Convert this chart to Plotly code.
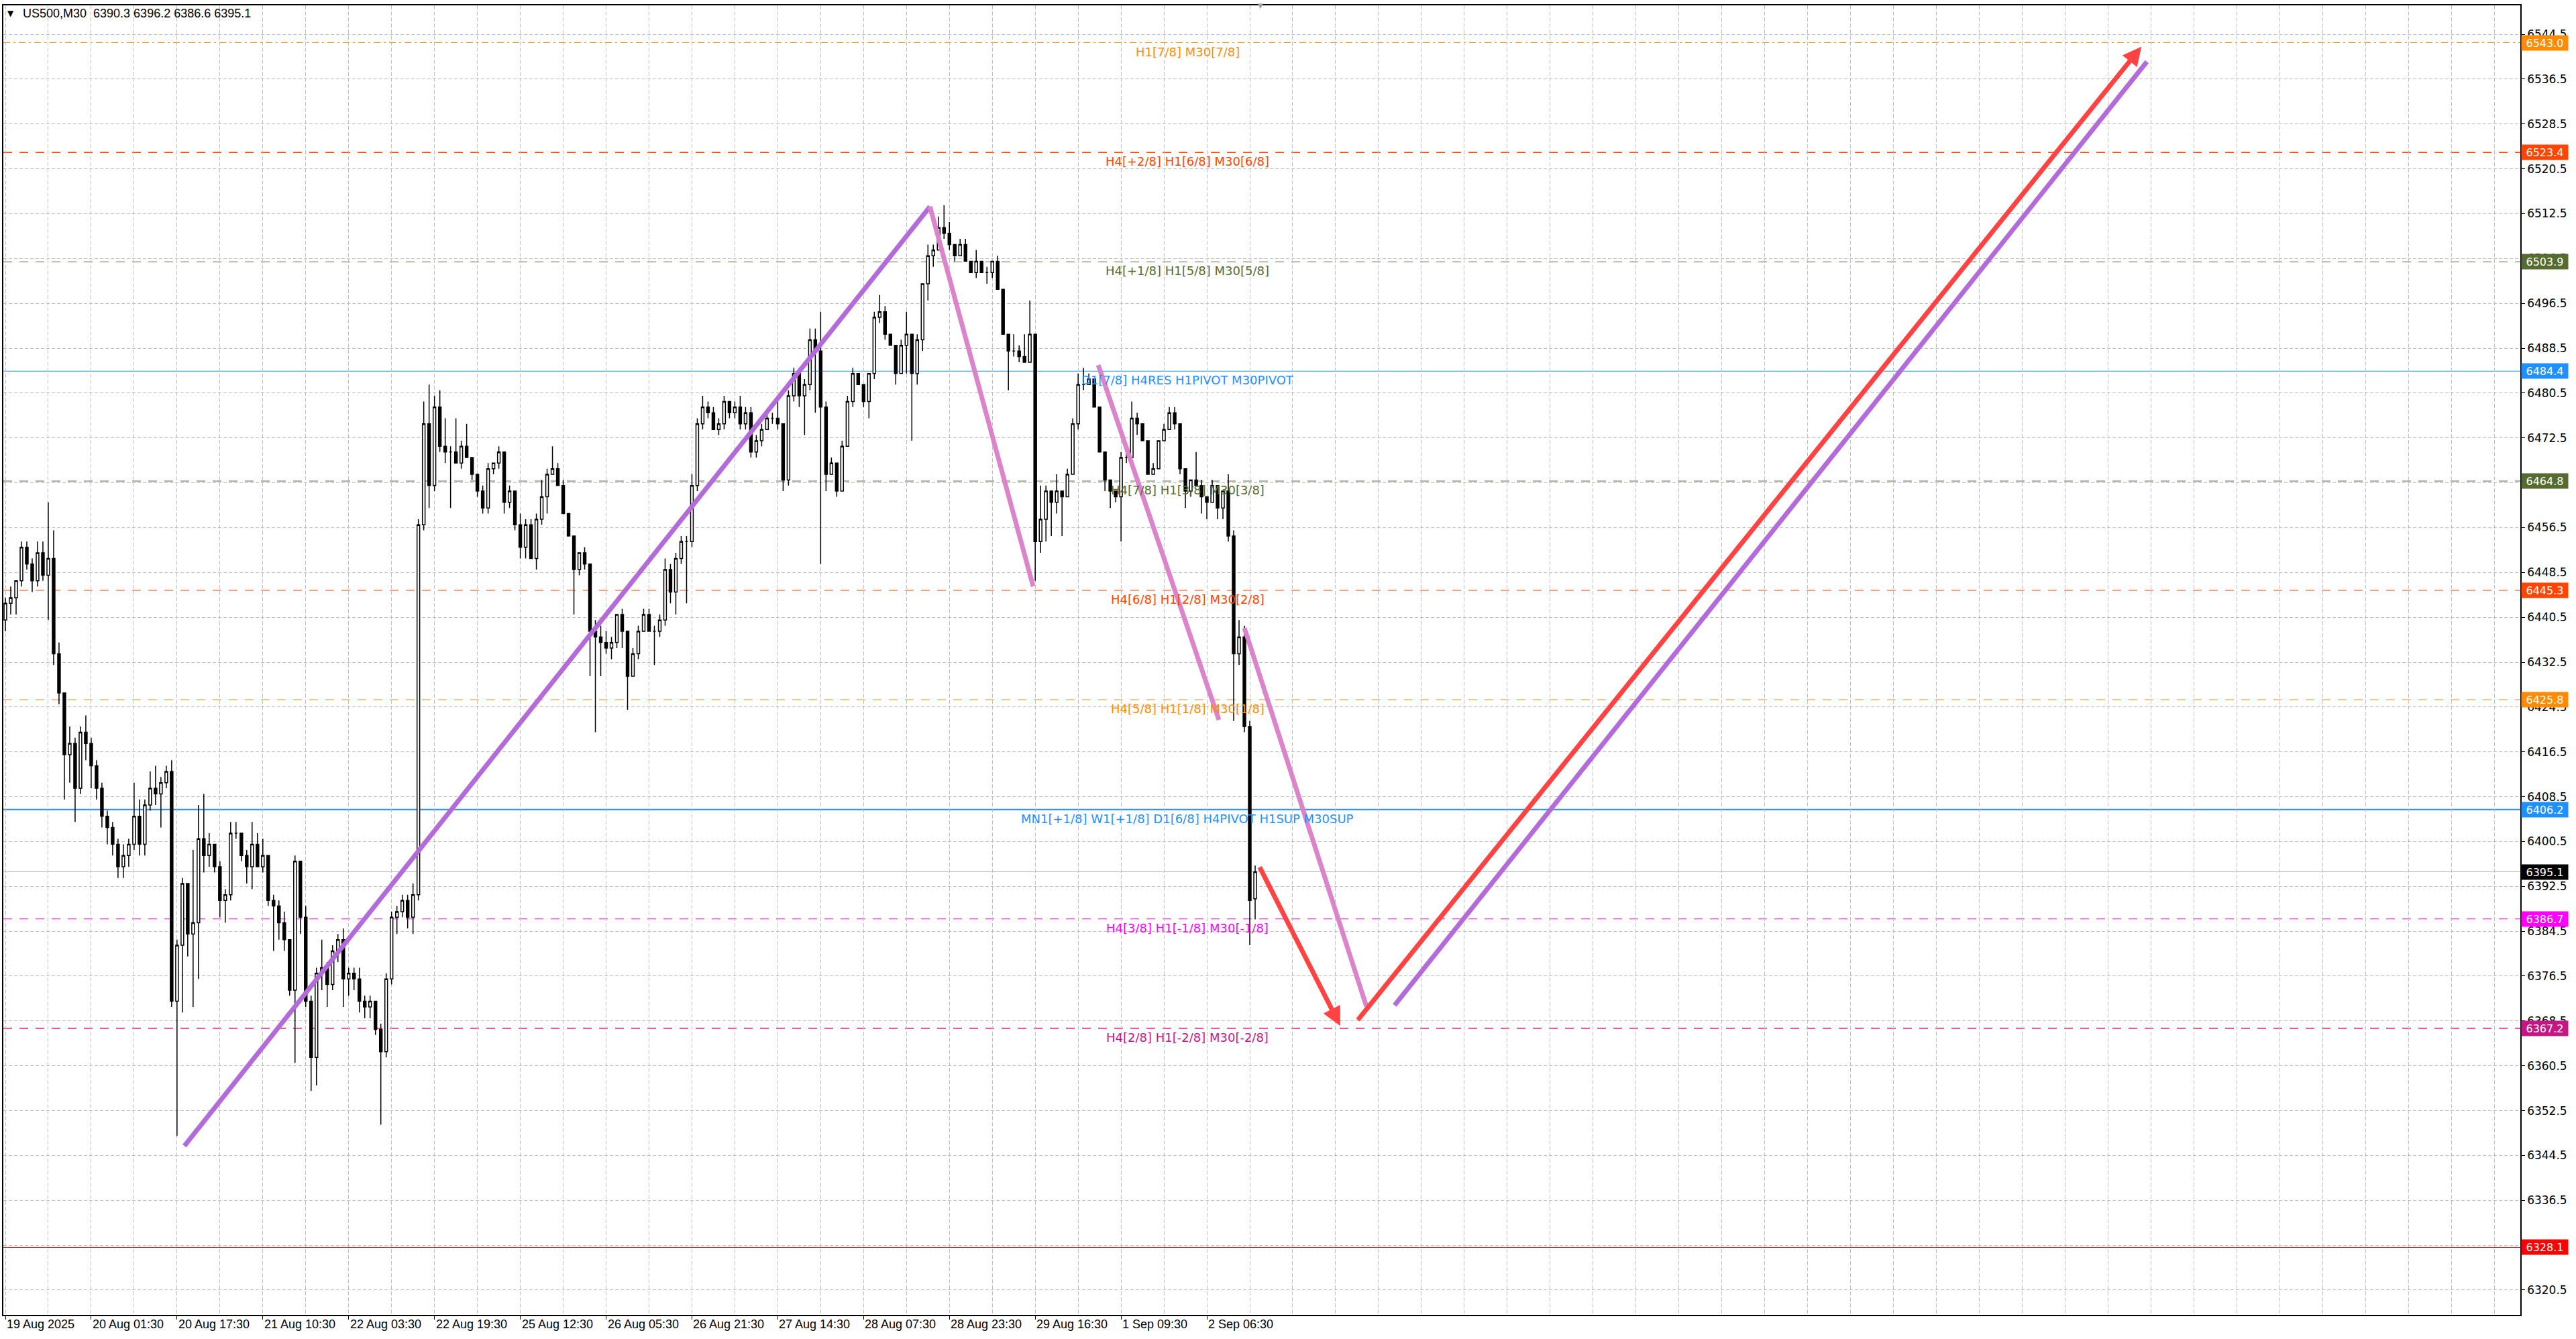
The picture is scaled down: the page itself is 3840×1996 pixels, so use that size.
import plotly.graph_objects as go

# US500 M30, hourly OHLC (bar index counts 30-min bars from 19 Aug 2025)
opens = [
    6440, 6443, 6444, 6447, 6453, 6450, 6447, 6452, 6448, 6451,
    6434, 6427, 6416, 6418, 6410, 6420, 6418, 6414, 6410, 6405,
    6403, 6400, 6396, 6398, 6400, 6405, 6400, 6407, 6410, 6409,
    6411, 6413, 6372, 6382, 6393, 6384, 6386, 6401, 6398, 6400,
    6396, 6390, 6391, 6402, 6402, 6398, 6396, 6400, 6396, 6398,
    6390, 6389, 6386, 6383, 6374, 6397, 6387, 6372, 6362, 6377,
    6378, 6375, 6381, 6383, 6376, 6377, 6376, 6372, 6371, 6372,
    6367, 6363, 6376, 6387, 6388, 6390, 6387, 6391, 6457, 6475,
    6464, 6478, 6471, 6470, 6470, 6468, 6471, 6469, 6466, 6463,
    6460, 6467, 6468, 6470, 6461, 6463, 6457, 6453, 6457, 6451,
    6458, 6462, 6466, 6467, 6464, 6459, 6455, 6449, 6452, 6450,
    6438, 6437, 6436, 6435, 6436, 6441, 6438, 6430, 6434, 6438,
    6441, 6438, 6438, 6440, 6449, 6445, 6451, 6454, 6454, 6464,
    6475, 6478, 6477, 6474, 6475, 6479, 6477, 6478, 6475, 6477,
    6470, 6472, 6474, 6476, 6476, 6475, 6465, 6480, 6484, 6480,
    6482, 6490, 6488, 6478, 6466, 6468, 6463, 6471, 6479, 6484,
    6482, 6479, 6484, 6494, 6495, 6491, 6489, 6484, 6489, 6491,
    6484, 6490, 6500, 6505, 6506, 6510, 6509, 6507, 6505, 6507,
    6504, 6502, 6504, 6502, 6502, 6504, 6499, 6491, 6488, 6488,
    6487, 6486, 6491, 6454, 6458, 6463, 6461, 6463, 6462, 6466,
    6475, 6482, 6482, 6483, 6478, 6470, 6465, 6463, 6462, 6469,
    6469, 6476, 6475, 6472, 6466, 6467, 6472, 6474, 6477, 6475,
    6467, 6463, 6465, 6464, 6462, 6461, 6464, 6460, 6463, 6455,
    6434, 6437, 6421, 6390.3,
]
highs = [
    6444, 6446, 6447, 6454, 6454, 6451, 6454, 6454, 6461, 6456,
    6436, 6427, 6421, 6419, 6421, 6423, 6419, 6415, 6411, 6406,
    6404, 6401, 6400, 6401, 6411, 6408, 6408, 6413, 6414, 6412,
    6414, 6415, 6383, 6394, 6393, 6399, 6407, 6409, 6402, 6400,
    6397, 6392, 6404, 6404, 6402, 6399, 6404, 6402, 6401, 6398,
    6391, 6390, 6388, 6383, 6398, 6397, 6389, 6373, 6378, 6383,
    6379, 6382, 6384, 6385, 6378, 6378, 6378, 6373, 6373, 6372,
    6368, 6377, 6388, 6389, 6391, 6391, 6393, 6458, 6479, 6482,
    6480, 6481, 6476, 6471, 6476, 6472, 6475, 6469, 6466, 6464,
    6468, 6468, 6471, 6470, 6464, 6463, 6459, 6458, 6458, 6459,
    6465, 6467, 6471, 6468, 6465, 6459, 6455, 6452, 6453, 6450,
    6440, 6439, 6438, 6437, 6441, 6442, 6438, 6435, 6439, 6442,
    6442, 6439, 6441, 6451, 6450, 6452, 6455, 6455, 6466, 6476,
    6480, 6479, 6478, 6476, 6480, 6479, 6479, 6480, 6478, 6478,
    6473, 6475, 6477, 6477, 6479, 6475, 6481, 6485, 6485, 6483,
    6492, 6492, 6495, 6479, 6469, 6468, 6472, 6480, 6485, 6484,
    6482, 6484, 6495, 6498, 6496, 6491, 6489, 6490, 6495, 6491,
    6491, 6500, 6507, 6507, 6512, 6514, 6511, 6507, 6508, 6508,
    6504, 6506, 6504, 6503, 6504, 6505, 6499, 6491, 6491, 6489,
    6491, 6497, 6491, 6464, 6464, 6463, 6466, 6463, 6467, 6476,
    6484, 6485, 6484, 6483, 6478, 6470, 6465, 6463, 6470, 6470,
    6479, 6477, 6475, 6472, 6468, 6472, 6475, 6478, 6478, 6475,
    6467, 6465, 6470, 6465, 6462, 6465, 6464, 6463, 6466, 6456,
    6440, 6439, 6422, 6396.2,
]
lows = [
    6438, 6441, 6441, 6446, 6449, 6445, 6446, 6447, 6440, 6432,
    6425, 6408, 6411, 6404, 6409, 6415, 6410, 6408, 6403, 6400,
    6398, 6394, 6394, 6396, 6399, 6398, 6398, 6406, 6407, 6403,
    6410, 6371, 6348, 6370, 6380, 6371, 6376, 6395, 6396, 6395,
    6387, 6386, 6390, 6401, 6397, 6393, 6392, 6396, 6395, 6389,
    6381, 6383, 6381, 6373, 6361, 6384, 6371, 6356, 6357, 6374,
    6371, 6374, 6379, 6371, 6373, 6374, 6370, 6369, 6369, 6366,
    6350, 6362, 6375, 6384, 6387, 6385, 6384, 6390, 6456, 6460,
    6463, 6470, 6468, 6460, 6468, 6467, 6469, 6465, 6462, 6459,
    6459, 6466, 6467, 6459, 6460, 6456, 6451, 6451, 6451, 6449,
    6457, 6459, 6466, 6464, 6459, 6455, 6441, 6448, 6449, 6430,
    6420, 6430, 6434, 6433, 6435, 6435, 6424, 6430, 6433, 6438,
    6438, 6432, 6437, 6439, 6443, 6441, 6450, 6443, 6453, 6463,
    6474, 6476, 6474, 6473, 6474, 6476, 6476, 6474, 6474, 6469,
    6469, 6471, 6474, 6475, 6474, 6463, 6464, 6479, 6478, 6473,
    6481, 6477, 6450, 6463, 6466, 6462, 6463, 6471, 6478, 6482,
    6478, 6476, 6483, 6493, 6490, 6489, 6482, 6484, 6484, 6472,
    6482, 6488, 6497, 6503, 6506, 6508, 6506, 6504, 6505, 6504,
    6502, 6501, 6502, 6500, 6501, 6499, 6491, 6481, 6487, 6486,
    6486, 6486, 6447, 6452, 6454, 6455, 6459, 6455, 6462, 6466,
    6474, 6481, 6482, 6478, 6470, 6463, 6460, 6461, 6454, 6468,
    6469, 6473, 6472, 6466, 6466, 6467, 6472, 6474, 6474, 6466,
    6460, 6462, 6464, 6459, 6458, 6461, 6458, 6458, 6454, 6422,
    6432, 6420, 6382, 6386.6,
]
closes = [
    6443, 6444, 6447, 6453, 6450, 6447, 6452, 6448, 6451, 6434,
    6427, 6416, 6418, 6410, 6420, 6418, 6414, 6410, 6405, 6403,
    6400, 6396, 6398, 6400, 6405, 6400, 6407, 6410, 6409, 6411,
    6413, 6372, 6382, 6393, 6384, 6386, 6401, 6398, 6400, 6396,
    6390, 6391, 6402, 6402, 6398, 6396, 6400, 6396, 6398, 6390,
    6389, 6386, 6383, 6374, 6397, 6387, 6372, 6362, 6377, 6378,
    6375, 6381, 6383, 6376, 6377, 6376, 6372, 6371, 6372, 6367,
    6363, 6376, 6387, 6388, 6390, 6387, 6391, 6457, 6475, 6464,
    6478, 6471, 6470, 6470, 6468, 6471, 6469, 6466, 6463, 6460,
    6467, 6468, 6470, 6461, 6463, 6457, 6453, 6457, 6451, 6458,
    6462, 6466, 6467, 6464, 6459, 6455, 6449, 6452, 6450, 6438,
    6437, 6436, 6435, 6436, 6441, 6438, 6430, 6434, 6438, 6441,
    6438, 6438, 6440, 6449, 6445, 6451, 6454, 6454, 6464, 6475,
    6478, 6477, 6474, 6475, 6479, 6477, 6478, 6475, 6477, 6470,
    6472, 6474, 6476, 6476, 6475, 6465, 6480, 6484, 6480, 6482,
    6490, 6488, 6478, 6466, 6468, 6463, 6471, 6479, 6484, 6482,
    6479, 6484, 6494, 6495, 6491, 6489, 6484, 6489, 6491, 6484,
    6490, 6500, 6505, 6506, 6510, 6509, 6507, 6505, 6507, 6504,
    6502, 6504, 6502, 6502, 6504, 6499, 6491, 6488, 6488, 6487,
    6486, 6491, 6454, 6458, 6463, 6461, 6463, 6462, 6466, 6475,
    6482, 6482, 6483, 6478, 6470, 6465, 6463, 6462, 6469, 6469,
    6476, 6475, 6472, 6466, 6467, 6472, 6474, 6477, 6475, 6467,
    6463, 6465, 6464, 6462, 6461, 6464, 6460, 6463, 6455, 6434,
    6437, 6421, 6390, 6395.1,
]
bar_index = [2 * k for k in range(len(closes))]

date_labels = ["19 Aug 2025", "20 Aug 01:30", "20 Aug 17:30", "21 Aug 10:30",
               "22 Aug 03:30", "22 Aug 19:30", "25 Aug 12:30", "26 Aug 05:30",
               "26 Aug 21:30", "27 Aug 14:30", "28 Aug 07:30", "28 Aug 23:30",
               "29 Aug 16:30", "1 Sep 09:30", "2 Sep 06:30"]
date_bars = [0, 32, 64, 96, 128, 160, 192, 224, 256, 288, 320, 352, 384, 416, 448]

price_ticks = [6320.5, 6328.5, 6336.5, 6344.5, 6352.5, 6360.5, 6368.5, 6376.5,
               6384.5, 6392.5, 6400.5, 6408.5, 6416.5, 6424.5, 6432.5, 6440.5,
               6448.5, 6456.5, 6464.5, 6472.5, 6480.5, 6488.5, 6496.5, 6504.5,
               6512.5, 6520.5, 6528.5, 6536.5, 6544.5]

# Murrey math levels
level_prices = [6543.0, 6523.4, 6503.9, 6484.4, 6464.8, 6445.3, 6425.8, 6406.2,
                6386.7, 6367.2, 6328.1]
level_names = ["H1[7/8] M30[7/8]",
               "H4[+2/8] H1[6/8] M30[6/8]",
               "H4[+1/8] H1[5/8] M30[5/8]",
               "D1[7/8] H4RES H1PIVOT M30PIVOT",
               "H4[7/8] H1[3/8] M30[3/8]",
               "H4[6/8] H1[2/8] M30[2/8]",
               "H4[5/8] H1[1/8] M30[1/8]",
               "MN1[+1/8] W1[+1/8] D1[6/8] H4PIVOT H1SUP M30SUP",
               "H4[3/8] H1[-1/8] M30[-1/8]",
               "H4[2/8] H1[-2/8] M30[-2/8]",
               ""]
level_colors = ["#FF8C00", "#FF4500", "#556B2F", "#1E90FF", "#556B2F", "#FF4500",
                "#FF8C00", "#1E90FF", "#FF00FF", "#C71585", "#FF0000"]
level_dash = ["10px,5px,3px,5px", "13px,11px", "13px,11px", "solid", "13px,11px",
              "13px,11px", "13px,11px", "solid", "13px,11px", "13px,11px", "solid"]
level_width = [1, 1.5, 1, 1, 1, 1, 1, 2, 1, 1.5, 1]
label_bar = 440.75

# hand-drawn lines: (bar0, price0, bar1, price1)
trend_lines = [(66.75, 6346.2, 344.75, 6513.75),
               (344.75, 6513.75, 383.25, 6446.0),
               (407.5, 6485.5, 452.5, 6422.2),
               (462.0, 6438.6, 507.5, 6371.1),
               (518.0, 6371.3, 798.5, 6539.6)]
trend_colors = ["#B36BD9", "#DB84C9", "#DB84C9", "#DB84C9", "#B36BD9"]
arrows = [(467.5, 6396.1, 497.75, 6367.6),
          (504.0, 6368.5, 796.5, 6542.3)]

fig = go.Figure()

fig.add_trace(go.Candlestick(
    x=bar_index, open=opens, high=highs, low=lows, close=closes,
    increasing=dict(line=dict(color="black", width=1.5), fillcolor="white"),
    decreasing=dict(line=dict(color="black", width=1.5), fillcolor="black"),
    whiskerwidth=0, hoverinfo="skip", showlegend=False))

for p, c, d, w in zip(level_prices, level_colors, level_dash, level_width):
    fig.add_shape(type="line", xref="paper", x0=0, x1=1, yref="y", y0=p, y1=p,
                  line=dict(color=c, width=w, dash=d), layer="between")
# current price line
fig.add_shape(type="line", xref="paper", x0=0, x1=1, yref="y",
              y0=closes[-1], y1=closes[-1],
              line=dict(color="#B8B8B8", width=1), layer="between")

# level captions just under each line
for p, name, c in zip(level_prices, level_names, level_colors):
    if name:
        fig.add_annotation(x=label_bar, xref="x", y=p, yref="y", yanchor="top",
                           yshift=-1, text=name, showarrow=False,
                           font=dict(family="DejaVu Sans", size=18, color=c))

for (x0, y0, x1, y1), c in zip(trend_lines, trend_colors):
    fig.add_shape(type="line", xref="x", yref="y", x0=x0, y0=y0, x1=x1, y1=y1,
                  line=dict(color=c, width=7), layer="above")

for x0, y0, x1, y1 in arrows:
    fig.add_annotation(x=x1, y=y1, ax=x0, ay=y0, xref="x", yref="y",
                       axref="x", ayref="y", text="", showarrow=True,
                       arrowhead=2, arrowsize=0.8, arrowwidth=7,
                       arrowcolor="#FF4242")

# price tags on the axis
tag_prices = level_prices + [closes[-1]]
tag_colors = level_colors + ["#000000"]
for p, c in zip(tag_prices, tag_colors):
    fig.add_annotation(x=1, xref="paper", y=p, yref="y", xanchor="left",
                       xshift=1, text=f"{p:.1f}", showarrow=False,
                       bgcolor=c, width=67, height=20, borderpad=1,
                       font=dict(family="DejaVu Sans", size=16, color="white"))

for b, t in zip(date_bars, date_labels):
    fig.add_annotation(x=b, xref="x", y=0, yref="paper", yanchor="top",
                       xanchor="left", yshift=-2, text=t, showarrow=False,
                       font=dict(family="Liberation Sans", size=18, color="black"))

title = "US500,M30  {} {} {} {}".format(opens[-1], highs[-1], lows[-1], closes[-1])
fig.add_annotation(x=0, xref="paper", y=1, yref="paper", xanchor="left",
                   yanchor="middle", xshift=4, yshift=-12, text="▼",
                   showarrow=False, font=dict(family="DejaVu Sans", size=12, color="black"))
fig.add_annotation(x=0, xref="paper", y=1, yref="paper", xanchor="left",
                   yanchor="middle", xshift=27, yshift=-12, text=title,
                   showarrow=False, font=dict(family="Liberation Sans", size=18, color="black"))
fig.add_annotation(x=0.4995, xref="paper", y=1, yref="paper", yanchor="middle",
                   text="▼", showarrow=False,
                   font=dict(family="DejaVu Sans", size=10, color="#A0A0A0"))

fig.update_layout(
    width=3840, height=1996,
    margin=dict(l=3, r=83, t=8, b=36),
    paper_bgcolor="white", plot_bgcolor="white",
    showlegend=False,
    xaxis=dict(range=[-0.75, 937.75], rangeslider=dict(visible=False),
               tickmode="array", tickvals=date_bars, showticklabels=False,
               ticks="outside", ticklen=5, tickcolor="black",
               showgrid=True, gridcolor="#C0C0C0", griddash="6px,3px",
               minor=dict(tickvals=list(range(0, 938, 16)), showgrid=True,
                          gridcolor="#C0C0C0", griddash="6px,3px"),
               showline=True, linecolor="black", linewidth=1.5, mirror=True,
               zeroline=False),
    yaxis=dict(side="right", range=[6316.07, 6549.65],
               tickmode="array", tickvals=price_ticks,
               ticktext=[f"{v:.1f}" for v in price_ticks],
               tickfont=dict(family="DejaVu Sans", size=17, color="black"),
               ticks="outside", ticklen=5, tickcolor="black",
               showgrid=True, gridcolor="#C0C0C0", griddash="5px,3px",
               showline=True, linecolor="black", linewidth=1.5, mirror=True,
               zeroline=False),
)

# the page body has a default 8px margin; drop it so the chart fills the window
fig.write_html("out.html", config={"displayModeBar": False},
               post_script="document.body.style.margin='0';")
